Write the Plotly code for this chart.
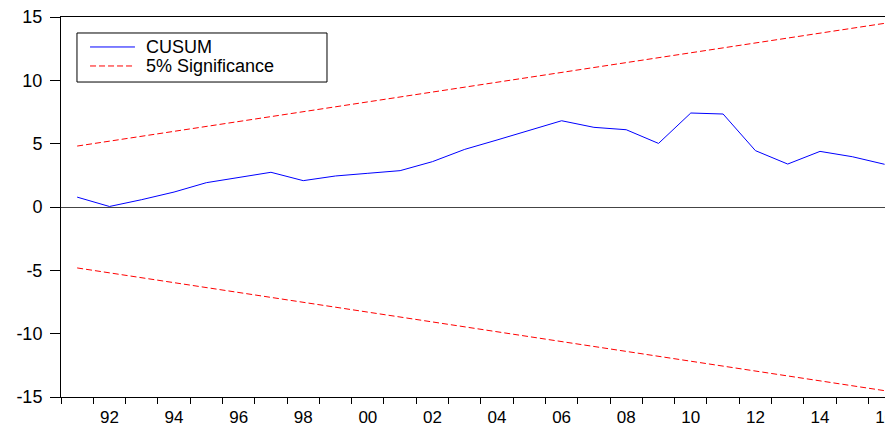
import plotly.graph_objects as go

years = list(range(1991, 2017))
cusum = [0.78, 0.04, 0.58, 1.18, 1.92, 2.31, 2.74, 2.08, 2.45, 2.66, 2.87, 3.58,
         4.55, 5.29, 6.02, 6.81, 6.29, 6.10, 5.02, 7.42, 7.34, 4.45, 3.39, 4.39,
         3.97, 3.37]
upper = [4.81, 5.20, 5.58, 5.97, 6.36, 6.75, 7.13, 7.52, 7.91, 8.30, 8.68, 9.07,
         9.46, 9.85, 10.23, 10.62, 11.01, 11.40, 11.78, 12.17, 12.56, 12.95, 13.33,
         13.72, 14.11, 14.50]
lower = [-v for v in upper]
xtick_vals = list(range(1992, 2017, 2))
xtick_text = [str(y)[2:] for y in xtick_vals]
ytick_vals = [-15, -10, -5, 0, 5, 10, 15]
ytick_text = ["-15", "-10", "-5", "0", "5", "10", "15"]
legend_names = ["CUSUM", "5% Significance"]

FONT = "Liberation Sans, Arial, sans-serif"
font = dict(family=FONT, size=18, color="black")
dash = "6px,3px"

fig = go.Figure()
fig.add_trace(go.Scatter(x=years, y=cusum, mode="lines", name=legend_names[0],
                         line=dict(color="#0000FF", width=1)))
fig.add_trace(go.Scatter(x=years, y=upper, mode="lines", name=legend_names[1],
                         line=dict(color="#FF0000", width=1, dash=dash)))
fig.add_trace(go.Scatter(x=years, y=lower, mode="lines", name=legend_names[1],
                         line=dict(color="#FF0000", width=1, dash=dash)))

# manual legend box (paper coordinates)
fig.add_shape(type="rect", xref="paper", yref="paper",
              x0=0.0192, x1=0.3197, y0=0.8289, y1=0.9579,
              line=dict(color="black", width=1), fillcolor="white", layer="above")
fig.add_shape(type="line", xref="paper", yref="paper",
              x0=0.0349, x1=0.0889, y0=0.9211, y1=0.9211,
              line=dict(color="#0000FF", width=1), layer="above")
fig.add_shape(type="line", xref="paper", yref="paper",
              x0=0.0349, x1=0.0889, y0=0.8711, y1=0.8711,
              line=dict(color="#FF0000", width=1, dash=dash), layer="above")
for name, yy in zip(legend_names, [0.9211, 0.8711]):
    fig.add_annotation(xref="paper", yref="paper", x=0.0998, y=yy,
                       xanchor="left", yanchor="middle", text=name,
                       showarrow=False, font=font)

fig.update_layout(
    width=885, height=420,
    margin=dict(l=53, r=0, t=9, b=31),
    paper_bgcolor="white", plot_bgcolor="white",
    font=font,
    showlegend=False,
    xaxis=dict(range=[1990.5, 2016.26], tickmode="array", tickvals=xtick_vals,
               ticktext=xtick_text, ticks="", showgrid=False, zeroline=False,
               showline=True, linecolor="black", linewidth=1, mirror=True,
               tickfont=dict(family=FONT, size=17, color="black"),
               ticklabelstandoff=5, ticklabeloverflow="allow", automargin=False,
               minor=dict(tickmode="linear", tick0=1990.5, dtick=1,
                          ticks="outside", ticklen=6, tickcolor="black",
                          showgrid=False)),
    yaxis=dict(range=[-15, 15], tickmode="array", tickvals=ytick_vals,
               ticktext=ytick_text, ticklabeloverflow="allow", automargin=False,
               ticks="outside", ticklen=10, tickcolor="black", showgrid=False,
               zeroline=True, zerolinecolor="#444444", zerolinewidth=1,
               showline=True, linecolor="black", linewidth=1, mirror=False,
               ticklabelstandoff=4),
)

fig.write_html("out.html")
